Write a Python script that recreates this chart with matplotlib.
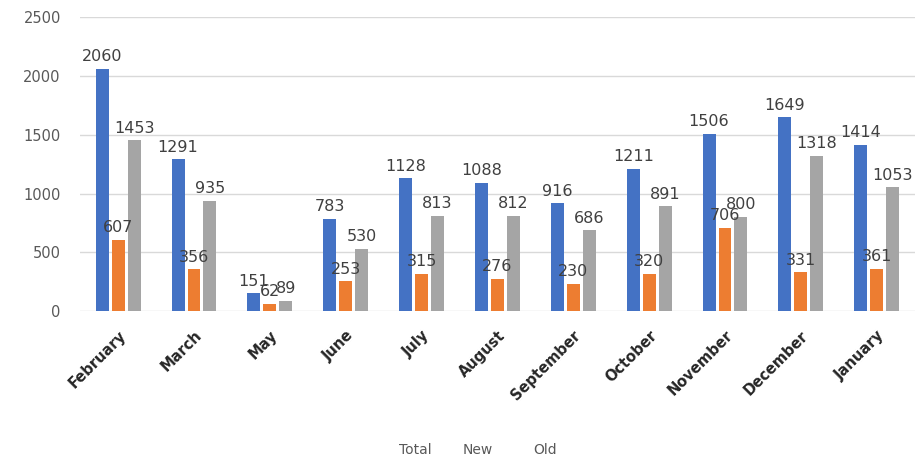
import matplotlib
matplotlib.use("Agg")
import matplotlib.pyplot as plt
import numpy as np

months = ["February", "March", "May", "June", "July", "August", "September",
          "October", "November", "December", "January"]
total = [2060, 1291, 151, 783, 1128, 1088, 916, 1211, 1506, 1649, 1414]
new = [607, 356, 62, 253, 315, 276, 230, 320, 706, 331, 361]
old = [1453, 935, 89, 530, 813, 812, 686, 891, 800, 1318, 1053]

series = [("Total", total, "#4472C4"), ("New", new, "#ED7D31"), ("Old", old, "#A5A5A5")]

fig = plt.figure(figsize=(9.22, 4.63), dpi=100)
ax = fig.add_axes([0.087, 0.328, 0.905, 0.635])

x = np.arange(len(months))
w = 0.17
step = 0.21
for i, (name, vals, col) in enumerate(series):
    pos = x + (i - 1) * step
    ax.bar(pos, vals, width=w, color=col, zorder=3, label=name)
    for p, v in zip(pos, vals):
        ax.text(p, v + 40, str(v), ha="center", va="bottom", fontsize=11.5,
                color="#404040", zorder=4)

ax.set_xlim(-0.5, 10.5)
ax.set_ylim(0, 2500)
ax.set_yticks([0, 500, 1000, 1500, 2000, 2500])
ax.grid(axis="y", color="#D9D9D9", linewidth=1, zorder=0)
for s in ax.spines.values():
    s.set_visible(False)
ax.tick_params(axis="both", length=0)
ax.tick_params(axis="y", labelsize=10.5, labelcolor="#595959", pad=14)
ax.set_xticks(x)
ax.set_xticklabels(months, rotation=45, ha="right", rotation_mode="anchor",
                   fontsize=10.5, fontweight="bold", color="#262626")
ax.tick_params(axis="x", pad=12)

for label, xp in [("Total", 0.450), ("New", 0.518), ("Old", 0.591)]:
    fig.text(xp, 0.012, label, ha="center", va="bottom", fontsize=10, color="#595959")

fig.savefig("out.png", dpi=100)
